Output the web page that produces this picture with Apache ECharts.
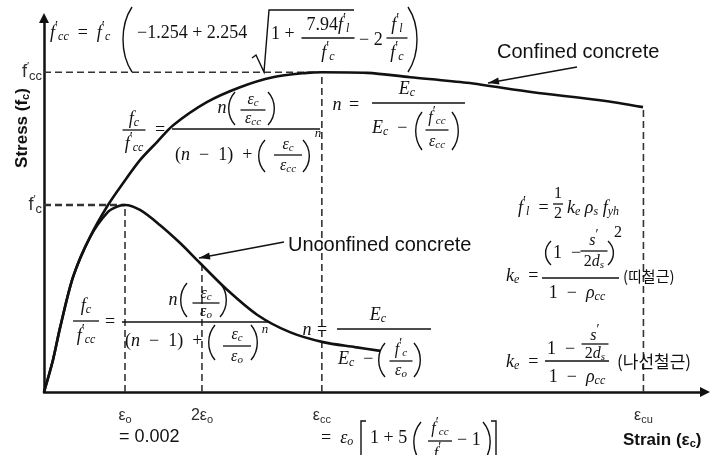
<!DOCTYPE html>
<html>
<head>
<meta charset="utf-8">
<script src="https://cdn.jsdelivr.net/npm/echarts@6/dist/echarts.min.js"></script>
<style>
  html, body { margin: 0; padding: 0; background: #ffffff; }
  #chart { width: 717px; height: 455px; }
</style>
</head>
<body>
<div id="chart"></div>
<script>
// Confined concrete stress–strain curve (strain, stress in MPa)
const confinedStrain = [0, 0.00022, 0.0004, 0.00072, 0.00114, 0.00158, 0.00195, 0.00237, 0.00279, 0.00319,
  0.00402, 0.00484, 0.00565, 0.00649, 0.00686, 0.00798, 0.00904, 0.01044, 0.01207, 0.01373, 0.01479];
const confinedStress = [0, 5.1, 10.4, 18.5, 24.9, 30.0, 33.5, 37.2, 40.1, 42.8,
  46.5, 48.9, 50.5, 51.2, 51.3, 51.2, 50.5, 49.6, 48.1, 46.8, 45.7];

// Unconfined concrete stress–strain curve
const unconfinedStrain = [0, 0.00022, 0.0004, 0.00072, 0.00114, 0.00158, 0.00183, 0.002, 0.00237, 0.00286,
  0.00336, 0.00385, 0.00452, 0.00526, 0.00607, 0.00689, 0.00768, 0.0083];
const unconfinedStress = [0, 5.1, 10.4, 18.5, 24.9, 28.9, 29.8, 30.0, 29.2, 26.8,
  23.9, 20.7, 16.4, 12.4, 9.6, 8.0, 7.2, 6.6];

// Characteristic values
const fcPrime = 30;        // f'c
const fccPrime = 51.3;     // f'cc
const epsO = 0.002;        // εo
const eps2O = 0.0039;      // 2εo
const epsCC = 0.00686;     // εcc
const epsCU = 0.0148;      // εcu
const stressAt2EpsO = 20.7;
const stressAtEpsCU = 45.7;

// Axis tick labels
const xTickValues = [epsO, eps2O, epsCC, epsCU];
const xTickLabels = ['{e|ε}{s|o}', '{e|2ε}{s|o}', '{e|ε}{s|cc}', '{e|ε}{s|cu}'];
const yTickValues = [fcPrime, fccPrime];
const yTickLabels = ['{f|f}{p|′}{s|c}', '{f|f}{p|′}{s|cc}'];

const INK = '#111111';
const GREY = '#2e2e2e';
const SERIF = "'Liberation Serif', 'Times New Roman', serif";
const SANS = "'Liberation Sans', Arial, sans-serif";
const KR = "'Noto Sans CJK KR', sans-serif";
const E = '\u2002'; // en space used around math operators

const mathRich = {
  i: { fontFamily: SERIF, fontStyle: 'italic', fontSize: 18, color: INK },
  r: { fontFamily: SERIF, fontSize: 18, color: INK },
  b: { fontFamily: SERIF, fontStyle: 'italic', fontSize: 12, color: INK, padding: [8, 0, 0, 0] },
  p: { fontFamily: SERIF, fontSize: 14, color: INK, padding: [0, 0, 12, 0] },
  si: { fontFamily: SERIF, fontStyle: 'italic', fontSize: 16, color: INK },
  sr: { fontFamily: SERIF, fontSize: 16, color: INK },
  sb: { fontFamily: SERIF, fontStyle: 'italic', fontSize: 11, color: INK, padding: [7, 0, 0, 0] },
  u: { fontFamily: SERIF, fontStyle: 'italic', fontSize: 13, color: INK },
  k: { fontFamily: KR, fontSize: 15, color: INK },
  k2: { fontFamily: KR, fontSize: 17, color: INK },
  a: { fontFamily: SANS, fontSize: 17, fontWeight: 'bold', color: GREY },
  as: { fontFamily: SANS, fontSize: 11, fontWeight: 'bold', color: GREY, padding: [7, 0, 0, 0] },
  n: { fontFamily: SANS, fontSize: 18, color: GREY },
  l: { fontFamily: SANS, fontSize: 20, color: GREY }
};

const g = [];
function tx(x, y, text, align, extra) {
  g.push(Object.assign({
    type: 'text', x: x, y: y, silent: true, z: 10,
    style: { text: text, rich: mathRich, align: align || 'left', verticalAlign: 'middle', fill: INK, font: '18px ' + SERIF }
  }, extra || {}));
}
function ln(x1, y1, x2, y2, w) {
  g.push({ type: 'line', silent: true, z: 10, shape: { x1: x1, y1: y1, x2: x2, y2: y2 }, style: { stroke: INK, lineWidth: w || 1.3 } });
}
function poly(points, w) {
  g.push({ type: 'polyline', silent: true, z: 10, shape: { points: points }, style: { stroke: INK, lineWidth: w || 1.3, fill: null } });
}
function paren(x, y1, y2, w, side) {
  const h = y2 - y1;
  const xe = side === 'L' ? x + w : x;
  const xc = side === 'L' ? x - w * 0.2 : x + w * 1.2;
  g.push({ type: 'bezierCurve', silent: true, z: 10,
    shape: { x1: xe, y1: y1, x2: xe, y2: y2, cpx1: xc, cpy1: y1 + h * 0.28, cpx2: xc, cpy2: y2 - h * 0.28 },
    style: { stroke: INK, lineWidth: 1.4, fill: null } });
}
function frac(cx, yBar, num, den, w, dn, dd) {
  tx(cx, yBar - dn, num, 'center');
  ln(cx - w / 2, yBar, cx + w / 2, yBar);
  tx(cx, yBar + dd, den, 'center');
}
function arrow(x1, y1, x2, y2) {
  ln(x1, y1, x2, y2, 1.6);
  const dx = x2 - x1, dy = y2 - y1, L = Math.hypot(dx, dy);
  const ux = dx / L, uy = dy / L, bx = x2 - 11 * ux, by = y2 - 11 * uy;
  g.push({ type: 'polygon', silent: true, z: 10,
    shape: { points: [[x2, y2], [bx - 3.5 * uy, by + 3.5 * ux], [bx + 3.5 * uy, by - 3.5 * ux]] },
    style: { fill: INK } });
}

// f'cc = f'c ( -1.254 + 2.254 sqrt(1 + 7.94 f'l / f'c - 2 f'l / f'c) )
tx(50, 33, '{i|f}{p|′}{b|cc}{r|' + E + '=' + E + '}{i|f}{p|′}{b|c}');
paren(122, 7, 72, 10, 'L');
tx(137, 33, '{r|−1.254 + 2.254}');
poly([[252, 58], [256, 55], [264, 72], [269, 10], [354, 10]], 1.4);
tx(271, 34, '{r|1 +}');
frac(328, 38, '{r|7.94}{i|f}{p|′}{b|l}', '{i|f}{p|′}{b|c}', 53, 13, 15);
tx(359, 40, '{r|− 2}');
frac(397, 38, '{i|f}{p|′}{b|l}', '{i|f}{p|′}{b|c}', 21, 13, 15);
paren(408, 7, 72, 10, 'R');

// fc / f'cc for confined concrete
frac(134, 130, '{i|f}{b|c}', '{i|f}{p|′}{b|cc}', 23, 11, 14);
tx(160, 130, '{r|=}', 'center');
ln(172, 129, 320, 129);
tx(222, 108, '{i|n}', 'center');
paren(228, 92, 125, 7, 'L');
frac(253, 110, '{si|ε}{sb|c}', '{si|ε}{sb|cc}', 25, 10, 9);
paren(268, 92, 125, 7, 'R');
tx(175, 155, '{r|(}{i|n}{r|' + E + '−' + E + '1)' + E + '+}');
paren(258, 140, 172, 7, 'L');
frac(288, 155, '{si|ε}{sb|c}', '{si|ε}{sb|cc}', 28, 10, 11);
paren(303, 140, 172, 7, 'R');
tx(318, 134, '{u|n}', 'center');

// n = Ec / (Ec - f'cc/εcc)
tx(337, 105, '{i|n}', 'center');
tx(354, 105, '{r|=}', 'center');
ln(372, 103, 465, 103);
tx(407, 89, '{i|E}{b|c}', 'center');
tx(372, 128, '{i|E}{b|c}{r|' + E + '−}');
paren(415, 112, 150, 7, 'L');
frac(437, 130, '{si|f}{p|′}{sb|cc}', '{si|ε}{sb|cc}', 23, 12, 12);
paren(452, 112, 150, 7, 'R');

// fc / f'cc for unconfined concrete
frac(86, 321, '{i|f}{b|c}', '{i|f}{p|′}{b|cc}', 26, 15, 15);
tx(110, 322, '{r|=}', 'center');
ln(122, 322, 270, 322);
tx(173, 300, '{i|n}', 'center');
paren(180, 283, 317, 7, 'L');
frac(206, 303, '{si|ε}{sb|c}', '{si|ε}{sb|o}', 27, 9, 9);
paren(220, 283, 317, 7, 'R');
tx(125, 341, '{r|(}{i|n}{r|' + E + '−' + E + '1)' + E + '+}');
paren(208, 325, 360, 7, 'L');
frac(237, 346, '{si|ε}{sb|c}', '{si|ε}{sb|o}', 28, 11, 11);
paren(251, 325, 360, 7, 'R');
tx(265, 330, '{u|n}', 'center');

// n = Ec / (Ec - f'c/εo)
tx(307, 330, '{i|n}', 'center');
tx(322, 330, '{r|=}', 'center');
ln(337, 329, 431, 329);
tx(378, 315, '{i|E}{b|c}', 'center');
tx(338, 359, '{i|E}{b|c}{r|' + E + '−}');
paren(378, 343, 377, 7, 'L');
frac(401, 361, '{si|f}{p|′}{sb|c}', '{si|ε}{sb|o}', 23, 11, 10);
paren(414, 343, 377, 7, 'R');

// f'l = 1/2 ke ρs fyh
tx(518, 208, '{i|f}{p|′}{b|l}{r|' + E + '=}');
frac(558, 204, '{sr|1}', '{sr|2}', 10, 10, 10);
tx(567, 208, '{i|k}{b|e}{r| }{i|ρ}{b|s}{r| }{i|f}{b|yh}');

// ke for rectangular hoops
tx(506, 276, '{i|k}{b|e}{r|' + E + '=}');
ln(542, 278, 619, 278);
paren(545, 241, 265, 6, 'L');
tx(553, 253, '{r|1' + E + '−}');
frac(594, 251, '{si|s}{p|′}', '{sr|2}{si|d}{sb|s}', 27, 10, 11);
paren(608, 241, 265, 6, 'R');
tx(618, 233, '{sr|2}', 'center');
tx(577, 293, '{r|1' + E + '−' + E + '}{i|ρ}{b|cc}', 'center');
tx(623, 276, '{k|(띠철근)}');

// ke for spirals
tx(506, 362, '{i|k}{b|e}{r|' + E + '=}');
ln(545, 361, 609, 361);
tx(547, 349, '{r|1' + E + '−}');
frac(595, 344, '{si|s}{p|′}', '{sr|2}{si|d}{sb|s}', 27, 8, 10);
tx(577, 377, '{r|1' + E + '−' + E + '}{i|ρ}{b|cc}', 'center');
tx(617, 362, '{k2|(나선철근)}');

// εcc = εo [1 + 5 (f'cc/f'c - 1)]
tx(321, 438, '{r|=' + E + '}{i|ε}{b|o}');
poly([[366, 421], [361, 421], [361, 462], [366, 462]], 1.4);
tx(370, 438, '{r|1 + 5}');
paren(413, 422, 462, 8, 'L');
frac(440, 441, '{si|f}{p|′}{sb|cc}', '{si|f}{p|′}{sb|c}', 24, 12, 13);
tx(457, 440, '{r|− 1}');
paren(483, 422, 462, 8, 'R');
poly([[491, 421], [496, 421], [496, 462], [491, 462]], 1.4);

// εo value, axis titles and curve labels
tx(119, 437, '{n|= 0.002}');
tx(623, 440, '{a|Strain (ε}{as|c}{a|)}');
tx(22, 128, '{a|Stress (f}{as|c}{a|)}', 'center', { rotation: Math.PI / 2 });
tx(497, 52, '{l|Confined concrete}');
arrow(577, 67, 488, 83);
tx(288, 245, '{l|Unconfined concrete}');
arrow(284, 242, 199, 258);

const pairs = (xs, ys) => xs.map((x, i) => [x, ys[i]]);
const dashed = (data, w) => ({
  type: 'line', data: data, showSymbol: false, silent: true, z: 3,
  lineStyle: { color: '#333', width: w || 1.6, type: [7, 4] }
});

const chart = echarts.init(document.getElementById('chart'), null, { renderer: 'canvas' });
chart.setOption({
  animation: false,
  backgroundColor: '#ffffff',
  grid: { left: 44, right: 12, top: 18, bottom: 63 },
  xAxis: {
    type: 'value', min: 0, max: 0.01632,
    splitLine: { show: false }, axisTick: { show: false },
    axisLine: { lineStyle: { color: INK, width: 2.5 }, symbol: ['none', 'triangle'], symbolSize: [10, 10] },
    axisLabel: {
      customValues: xTickValues, margin: 14,
      formatter: v => xTickLabels[xTickValues.indexOf(v)] || '',
      rich: {
        e: { fontFamily: SANS, fontSize: 16, color: GREY },
        s: { fontFamily: SANS, fontSize: 11, color: GREY, padding: [8, 0, 0, 0] }
      }
    }
  },
  yAxis: {
    type: 'value', min: 0, max: 60,
    splitLine: { show: false }, axisTick: { show: false },
    axisLine: { lineStyle: { color: INK, width: 2.5 }, symbol: ['none', 'triangle'], symbolSize: [10, 10] },
    axisLabel: {
      customValues: yTickValues, margin: 2,
      formatter: v => yTickLabels[yTickValues.indexOf(v)] || '',
      rich: {
        f: { fontFamily: SANS, fontSize: 18, color: GREY },
        p: { fontFamily: SANS, fontSize: 11, color: GREY, padding: [0, 0, 10, 0] },
        s: { fontFamily: SANS, fontSize: 13, color: GREY, padding: [8, 0, 0, 0] }
      }
    }
  },
  graphic: g,
  series: [
    { type: 'line', data: pairs(confinedStrain, confinedStress), smooth: 0.3, showSymbol: false, z: 5,
      lineStyle: { color: INK, width: 2.6 } },
    { type: 'line', data: pairs(unconfinedStrain, unconfinedStress), smooth: 0.3, showSymbol: false, z: 5,
      lineStyle: { color: INK, width: 2.6 } },
    dashed([[0, fccPrime], [epsCC, fccPrime]]),
    dashed([[0, fcPrime], [epsO, fcPrime]], 2.4),
    dashed([[epsO, 0], [epsO, fcPrime]]),
    dashed([[eps2O, 0], [eps2O, stressAt2EpsO]]),
    dashed([[epsCC, 0], [epsCC, fccPrime]]),
    dashed([[epsCU, 0], [epsCU, stressAtEpsCU]])
  ]
});
</script>
</body>
</html>
